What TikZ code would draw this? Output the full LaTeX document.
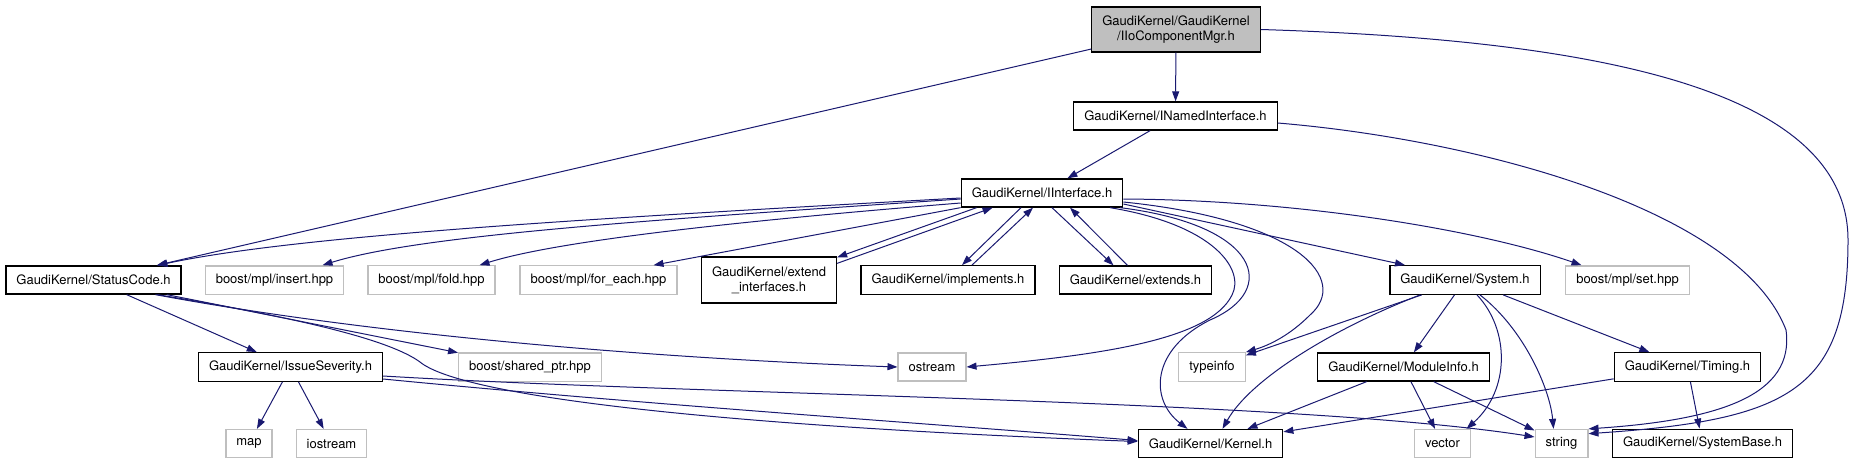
\documentclass[tikz,border=0pt]{standalone}
\usepackage{fontspec}
\newfontfamily\gvfont{TeX Gyre Heros}
\usepackage{xcolor}
\usetikzlibrary{arrows.meta}
\definecolor{edgeblue}{HTML}{191970}
\definecolor{extgray}{HTML}{BFBFBF}

\begin{document}
\begin{tikzpicture}[x=1pt, y=-1pt, >={Triangle[length=10pt,width=7pt]},
    file/.style={draw=black, line width=1.3pt, fill=white, inner xsep=10.5pt, inner ysep=8pt,
        minimum height=28pt, align=center, font=\gvfont\fontsize{13}{15}\selectfont},
    extfile/.style={file, draw=extgray},
    thisfile/.style={file, fill=extgray, minimum height=45pt},
    dep/.style={->, draw=edgeblue, line width=1pt}]
    \useasboundingbox (0,0) rectangle (1855,464);

    % 顶层文件
    \node[thisfile] (iio) at (1176,29.5) {GaudiKernel/GaudiKernel\\/IIoComponentMgr.h};
    \node[file] (named) at (1175.5,116) {GaudiKernel/INamedInterface.h};
    \node[file] (iint) at (1042,193) {GaudiKernel/IInterface.h};

    % 第三行
    \node[file] (status) at (93.5,280) {GaudiKernel/StatusCode.h};
    \node[extfile] (insert) at (274.5,280) {boost/mpl/insert.hpp};
    \node[extfile] (fold) at (431.5,280) {boost/mpl/fold.hpp};
    \node[extfile] (foreach) at (598.5,280) {boost/mpl/for\_each.hpp};
    \node[file, minimum height=46pt] (extint) at (769,280) {GaudiKernel/extend\\\_interfaces.h};
    \node[file] (impl) at (948,280) {GaudiKernel/implements.h};
    \node[file] (extends) at (1135.5,280) {GaudiKernel/extends.h};
    \node[file] (system) at (1465,280) {GaudiKernel/System.h};
    \node[extfile] (mplset) at (1627.5,280) {boost/mpl/set.hpp};

    % 第四行
    \node[file] (issue) at (290.5,367) {GaudiKernel/IssueSeverity.h};
    \node[extfile] (shared) at (530,367) {boost/shared\_ptr.hpp};
    \node[extfile] (ostream) at (932,367) {ostream};
    \node[extfile] (typeinfo) at (1212,367) {typeinfo};
    \node[file] (module) at (1403.5,367) {GaudiKernel/ModuleInfo.h};
    \node[file] (timing) at (1687.5,367) {GaudiKernel/Timing.h};

    % 底行
    \node[extfile] (map) at (249,443.5) {map};
    \node[extfile] (iostream) at (331.5,443.5) {iostream};
    \node[file] (kernel) at (1210.5,443.5) {GaudiKernel/Kernel.h};
    \node[extfile] (vector) at (1442.5,443.5) {vector};
    \node[extfile] (string) at (1561.5,443.5) {string};
    \node[file] (sysbase) at (1702.5,443.5) {GaudiKernel/SystemBase.h};

    % IIoComponentMgr.h 的依赖
    \draw[dep] (iio) -- (status);
    \draw[dep] (iio) -- (named);
    \draw[dep] (iio.east) .. controls (1600,40) and (1848,90) .. (1848,240)
        .. controls (1848,390) and (1790,420) .. (string.20);

    % INamedInterface.h
    \draw[dep] (named) -- (iint);
    \draw[dep] ([yshift=-7pt]named.east) .. controls (1480,140) and (1740,210) .. (1786,330)
        .. controls (1795,395) and (1720,420) .. (string.north east);

    % IInterface.h
    \draw[dep] ([yshift=-5pt]iint.west) .. controls (600,218) and (300,235) .. ([xshift=64pt]status.north);
    \draw[dep] ([yshift=-6pt]iint.west) .. controls (650,220) and (420,235) .. ([xshift=48pt]insert.north);
    \draw[dep] ([yshift=-10pt]iint.west) .. controls (750,220) and (560,240) .. ([xshift=48pt]fold.north);
    \draw[dep] (iint.south west) -- ([xshift=55pt]foreach.north);
    \draw[dep] ([xshift=16pt]iint.south west) -- ([yshift=-1pt]extint.north east);
    \draw[dep] ([yshift=-7pt]extint.north east) -- ([xshift=32pt]iint.south west);
    \draw[dep] ([xshift=-21pt]iint.south) -- ([xshift=14pt]impl.north);
    \draw[dep] ([xshift=24pt]impl.north) -- ([xshift=-9pt]iint.south);
    \draw[dep] ([xshift=10pt]iint.south) -- ([xshift=-22pt]extends.north);
    \draw[dep] ([xshift=-8pt]extends.north) -- ([xshift=28pt]iint.south);
    \draw[dep] ([xshift=68pt]iint.south) .. controls (1215,225) and (1245,270) .. (1232,295)
        .. controls (1210,340) and (1100,355) .. (ostream.east);
    \draw[dep] ([xshift=78pt]iint.south) .. controls (1260,225) and (1280,290) .. (1210,320)
        .. controls (1150,350) and (1150,400) .. ([xshift=-23pt]kernel.north);
    \draw[dep] ([yshift=-9pt]iint.east) .. controls (1300,220) and (1350,280) .. (1310,315)
        .. controls (1290,335) and (1270,345) .. (typeinfo.north east);
    \draw[dep] ([yshift=-11pt]iint.east) -- ([xshift=-60pt]system.north);
    \draw[dep] ([yshift=-6pt]iint.east) .. controls (1300,200) and (1480,230) .. ([xshift=-46pt]mplset.north);

    % StatusCode.h
    \draw[dep] (status) -- (issue);
    \draw[dep] (status) -- (shared);
    \draw[dep] ([xshift=62pt]status.south) .. controls (400,340) and (700,360) .. (ostream.west);
    \draw[dep] ([xshift=64pt]status.south) .. controls (300,318) and (390,340) .. (420,362)
        .. controls (460,395) and (700,425) .. ([yshift=2pt]kernel.west);

    % IssueSeverity.h
    \draw[dep] (issue) -- (map);
    \draw[dep] (issue) -- (iostream);
    \draw[dep] ([yshift=-9pt]issue.east) .. controls (700,395) and (1300,400) .. ([yshift=6.5pt]string.west);
    \draw[dep] ([yshift=-12pt]issue.east) .. controls (650,405) and (950,425) .. ([yshift=3pt]kernel.west);

    % System.h
    \draw[dep] (system) -- (typeinfo);
    \draw[dep] ([xshift=-45pt]system.south) .. controls (1330,330) and (1250,380) .. ([xshift=12pt]kernel.north);
    \draw[dep] (system) -- (module);
    \draw[dep] ([xshift=12pt]system.south) .. controls (1510,330) and (1510,390) .. ([xshift=24pt]vector.north);
    \draw[dep] ([xshift=15pt]system.south) .. controls (1525,330) and (1550,390) .. ([xshift=-8pt]string.north);
    \draw[dep] (system) -- (timing);

    % ModuleInfo.h 与 Timing.h
    \draw[dep] (module) -- (kernel);
    \draw[dep] (module) -- (vector);
    \draw[dep] (module) -- (string);
    \draw[dep] (timing) -- (kernel);
    \draw[dep] (timing) -- (sysbase);
\end{tikzpicture}
\end{document}
